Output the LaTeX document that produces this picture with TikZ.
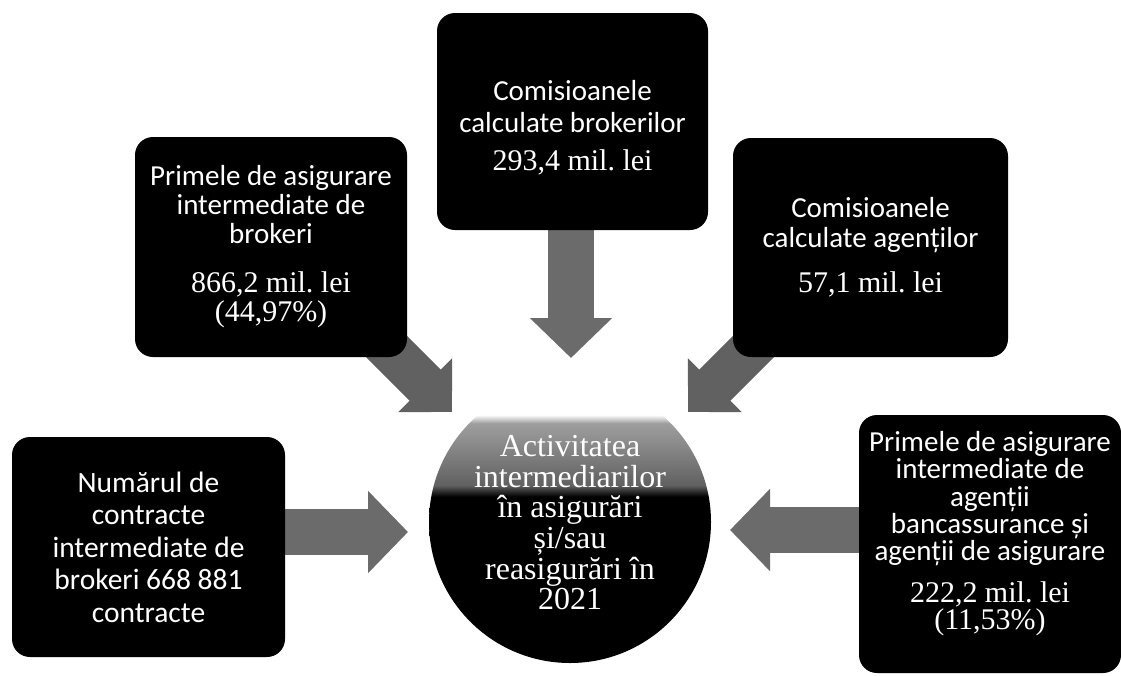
\documentclass[tikz,border=0pt]{standalone}
\usepackage{fontspec}
\setmainfont{Liberation Serif}
\newfontfamily\boxsans{Carlito}
\newfontfamily\numserif{Liberation Serif}
\usetikzlibrary{arrows.meta,backgrounds,calc}
\pgfdeclareverticalshading{circshade}{100bp}{color(0bp)=(black); color(54.5bp)=(black); color(56.5bp)=(black!62); color(62bp)=(black!50); color(67.5bp)=(black!38); color(69bp)=(white); color(100bp)=(white)}
\tikzset{
  box/.style={fill=black, rounded corners=18pt, text=white, align=center, inner sep=0pt,
    font=\boxsans\fontsize{29}{29}\selectfont},
  blk/.style={draw=black!58, line width=46pt, -{Triangle[length=40pt,width=80pt]}},
  blkd/.style={draw=black!62, line width=44pt, -{Triangle[length=38pt,width=74pt]}},
}
\newcommand{\numl}[1]{{\numserif\fontsize{30}{29}\selectfont #1}}
\frenchspacing
\begin{document}
\frenchspacing
\begin{tikzpicture}[x=1pt,y=-1pt]
\useasboundingbox (0,0) rectangle (1121,675);

\node[box, minimum width=272pt, minimum height=220pt, font=\boxsans\fontsize{29}{29}\selectfont] (b1) at (271,247)
  {Primele de asigurare\\intermediate de\\brokeri\\[20pt]\numl{866,2 mil. lei}\\\numl{(44,97\%)}};

\node[box, minimum width=271pt, minimum height=217pt, font=\boxsans\fontsize{29}{32}\selectfont] (b2) at (572.5,121.5)
  {\mbox{}\\[0pt]Comisioanele\\calculate brokerilor\\[6pt]\numl{293,4 mil. lei}};

\node[box, minimum width=275pt, minimum height=219pt, font=\boxsans\fontsize{29}{30}\selectfont] (b3) at (870.5,247.5)
  {Comisioanele\\calculate agenților\\[15pt]\numl{57,1 mil. lei}};

\node[box, minimum width=273pt, minimum height=220pt, font=\boxsans\fontsize{29.5}{32.5}\selectfont] (b4) at (148.5,547)
  {Numărul de\\contracte\\intermediate de\\brokeri 668 881\\contracte};

\node[box, minimum width=262pt, minimum height=258pt, font=\boxsans\fontsize{29}{27.3}\selectfont] (b5) at (990,544)
  {Primele de asigurare\\intermediate de\\agenții\\bancassurance și\\agenții de asigurare\\[14pt]\numl{222,2 mil. lei}\\\numl{(11,53\%)}\\\mbox{}};

\node[circle, inner sep=0pt, minimum size=282pt, shade, shading=circshade, text=white, align=center,
  font=\numserif\fontsize{32}{30.6}\selectfont] (c) at (570,522)
  {\mbox{}\\[-8pt]Activitatea\\intermediarilor\\în asigurări\\și/sau\\reasigurări în\\2021};

\coordinate (t1) at (452,412);
\coordinate (s1) at (380,340);
\coordinate (t2) at (571,358);
\coordinate (t3) at (688,412);
\coordinate (s3) at (760,340);
\coordinate (t4) at (408,532);
\coordinate (t5) at (730,530);

\begin{scope}[on background layer]
  \draw[blkd] (s1) -- (t1);
  \draw[blk] (t2 |- b2.center) -- (t2);
  \draw[blkd] (s3) -- (t3);
  \draw[blk] (t4 -| b4.center) -- (t4);
  \draw[blk] (t5 -| b5.center) -- (t5);
\end{scope}
\end{tikzpicture}
\end{document}
